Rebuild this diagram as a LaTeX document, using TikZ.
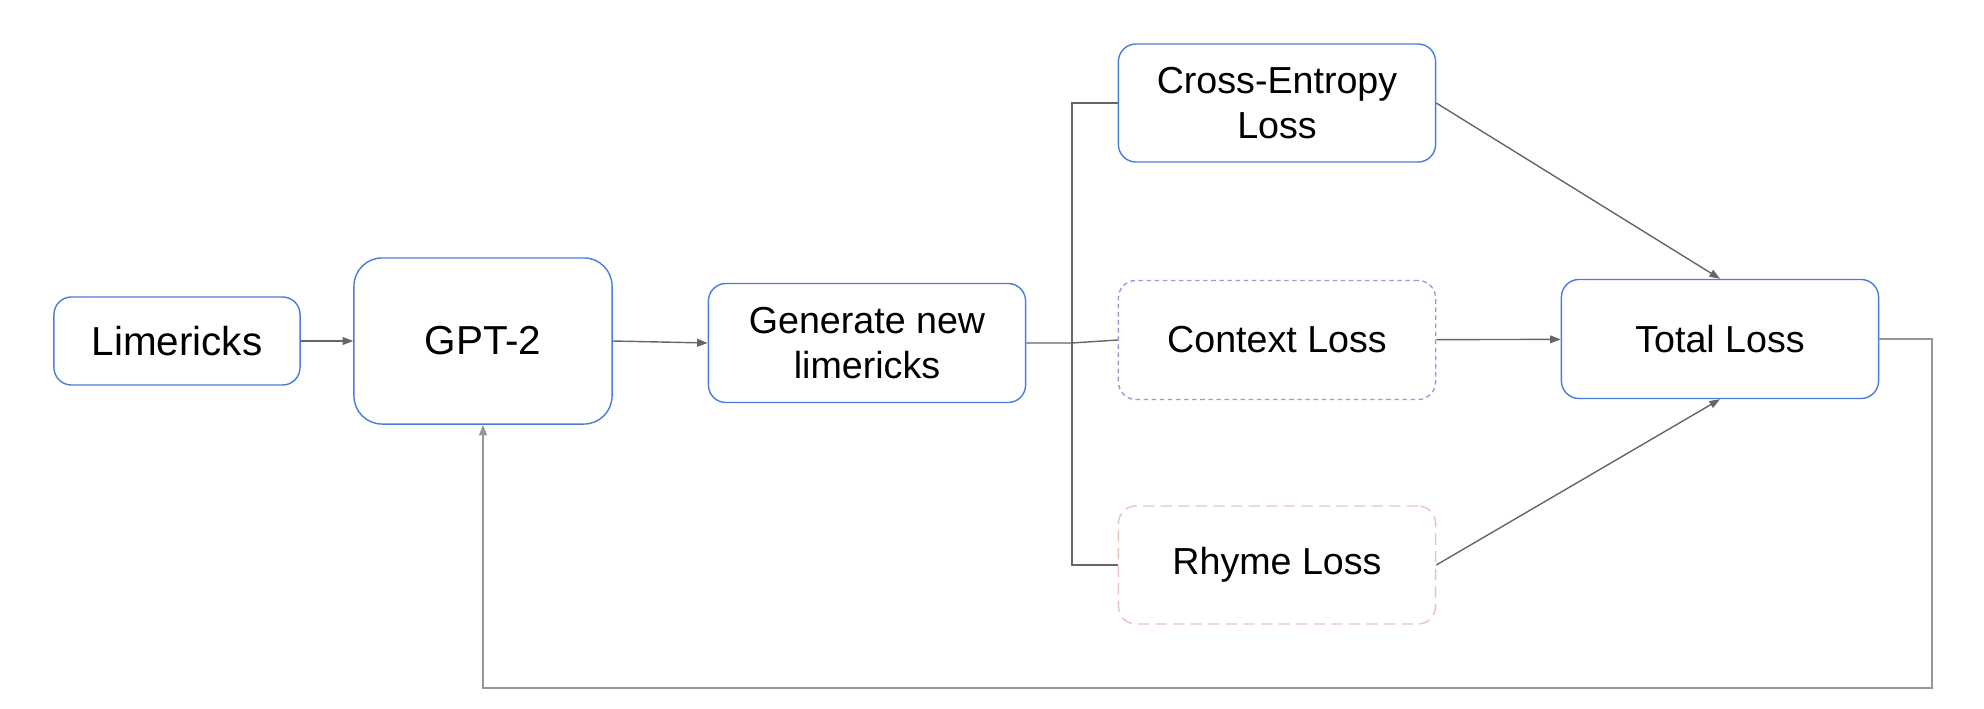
\documentclass[tikz,border=0pt]{standalone}
\usepackage{fontspec}
\setmainfont{Liberation Sans}
\usetikzlibrary{arrows.meta}

\definecolor{boxblue}{RGB}{74,124,220}
\definecolor{ctxpurple}{RGB}{160,152,216}
\definecolor{rhypink}{RGB}{232,196,188}
\definecolor{linegray}{RGB}{102,102,102}
\definecolor{loopgray}{RGB}{150,150,150}

\begin{document}
\begin{tikzpicture}[x=0.01cm,y=0.01cm,
    box/.style={draw=boxblue,line width=0.4pt,rounded corners=5pt,fill=white,
      align=center,inner sep=0pt,minimum width=3.17cm,minimum height=1.19cm,
      font=\fontsize{10.7}{12.8}\selectfont},
    bigtext/.style={font=\fontsize{11.5}{13.5}\selectfont},
    link/.style={draw=linegray,line width=0.4pt},
    tip/.style={-{Triangle[length=3pt,width=2.2pt]}}]
  % Frame
  \useasboundingbox (0,0) rectangle (1984,708);

  % Boxes
  \node[box,bigtext,minimum width=2.46cm,minimum height=0.88cm] (lim) at (177,367) {Limericks};
  \node[box,bigtext,minimum width=2.58cm,minimum height=1.66cm,rounded corners=8pt] (gpt) at (483,367) {GPT-2};
  \node[box] (gen) at (867,365) {Generate new\\limericks};
  \node[box,minimum height=1.18cm] (ce) at (1277,605) {Cross-Entropy\\Loss};
  \node[box,draw=ctxpurple,dash pattern=on 1.3pt off 1pt] (ctx) at (1277,368) {Context Loss};
  \node[box,draw=rhypink,dash pattern=on 3.2pt off 1.8pt,minimum height=1.18cm] (rhy) at (1277,143) {Rhyme Loss};
  \node[box] (tot) at (1720,369) {Total Loss};

  % Split point and loop corner
  \coordinate (split) at (1072,365);
  \coordinate (loop) at (1932,20);

  % Forward flow
  \draw[link,tip] (lim) -- (gpt);
  \draw[link,tip] (gpt.east) -- (gen.west);
  \draw[link] (gen.east) -- (split) -- (ctx.west);
  \draw[link] (ce.west) -| (split) |- (rhy.west);

  % Losses into total
  \draw[link,tip] (ce.east) -- (tot.north);
  \draw[link,tip] (ctx) -- (tot);
  \draw[link,tip] (rhy.east) -- (tot.south);

  % Feedback to the model
  \draw[draw=loopgray,line width=0.55pt,tip] (tot.east) -| (loop) -| (gpt.south);
\end{tikzpicture}
\end{document}
